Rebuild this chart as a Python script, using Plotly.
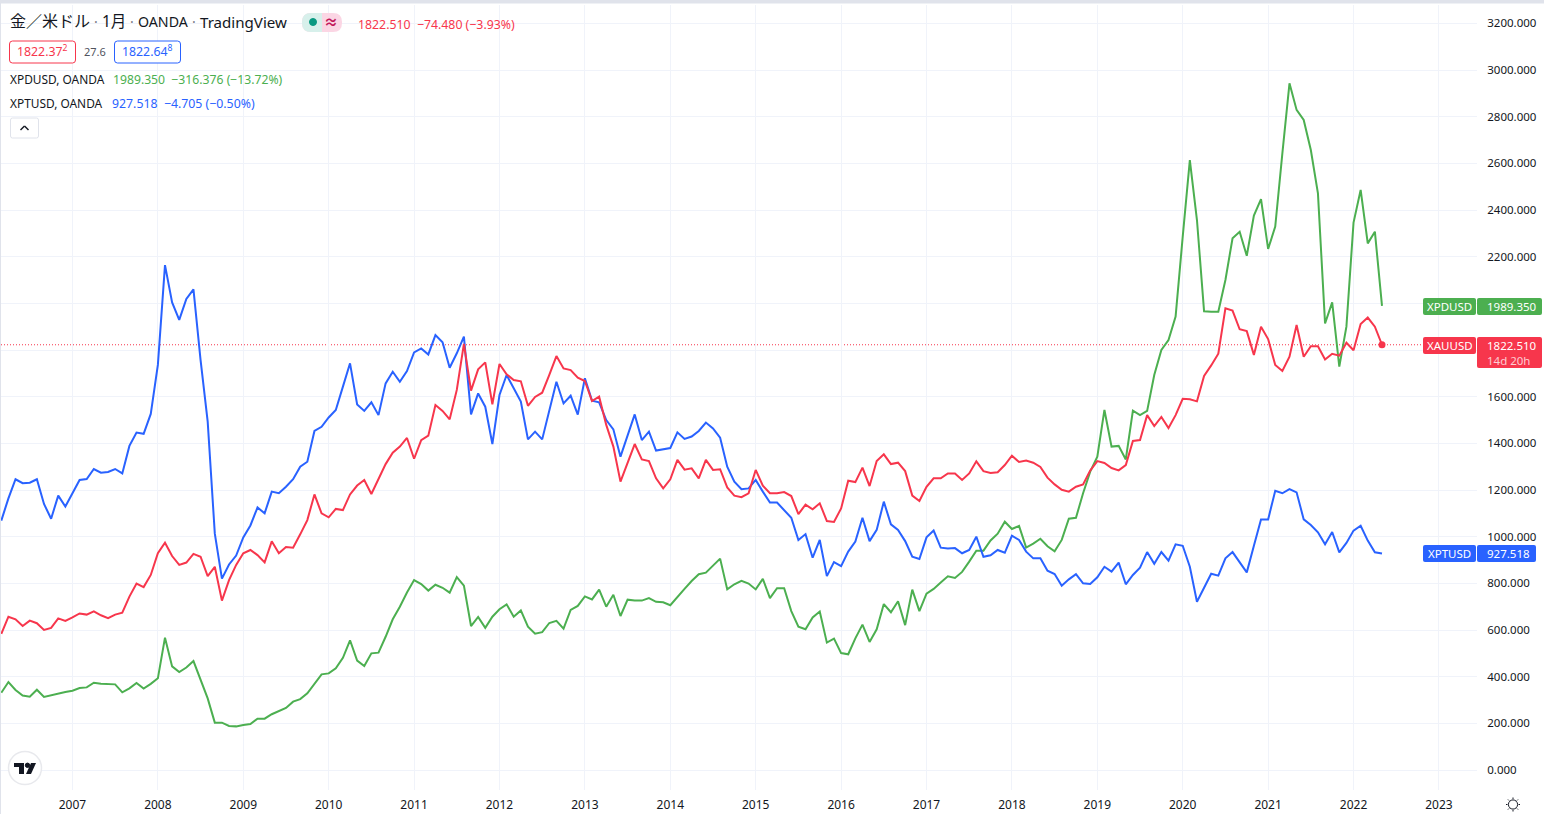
import plotly.graph_objects as go

# ---------- data ----------
first_year, first_month = 2006, 3
platinum = [
1069,1164,1246,1229,1231,1246,1140,1077,1176,1129,
1186,1243,1247,1290,1274,1277,1290,1271,1389,1446,
1441,1526,1736,2164,2004,1929,2019,2060,1757,1493,
1013,820,881,919,997,1048,1125,1100,1193,1186,
1214,1246,1300,1321,1453,1471,1511,1543,1643,1743,
1567,1539,1576,1521,1657,1707,1664,1710,1790,1807,
1781,1864,1833,1724,1786,1857,1524,1614,1557,1397,
1607,1693,1636,1579,1417,1450,1417,1543,1664,1571,
1604,1523,1679,1583,1576,1500,1460,1343,1436,1524,
1414,1450,1369,1376,1380,1447,1419,1429,1453,1489,
1464,1424,1300,1236,1203,1207,1243,1193,1146,1146,
1114,1081,986,1011,910,986,831,891,874,936,
979,1081,981,1029,1150,1053,1029,981,914,904,
997,1026,953,949,951,929,943,1000,914,920,
943,931,1004,986,936,907,907,854,840,790,
817,839,800,797,826,871,850,889,796,836,
867,934,884,934,897,967,961,871,721,779,
841,833,907,934,893,847,961,1074,1074,1197,
1186,1204,1190,1074,1050,1019,967,1020,933,973,
1026,1047,983,933,927.518]
gold = [
583,657,646,617,640,629,600,609,650,639,
654,671,666,680,663,651,666,674,743,799,
784,836,929,974,917,879,889,926,914,831,
871,726,814,879,929,943,921,890,980,929,
956,953,1010,1071,1181,1100,1083,1119,1114,1181,
1219,1243,1183,1247,1311,1360,1386,1423,1334,1414,
1433,1564,1539,1503,1629,1826,1626,1717,1747,1567,
1740,1696,1671,1666,1561,1599,1617,1693,1774,1721,
1714,1681,1667,1581,1600,1479,1386,1236,1321,1397,
1331,1324,1250,1207,1246,1329,1287,1293,1250,1329,
1286,1289,1211,1176,1169,1186,1286,1219,1186,1186,
1191,1174,1097,1137,1117,1143,1067,1063,1121,1240,
1234,1296,1217,1324,1353,1311,1317,1281,1176,1153,
1214,1250,1250,1271,1271,1243,1271,1323,1281,1273,
1276,1307,1347,1320,1326,1317,1299,1253,1224,1201,
1193,1214,1224,1283,1324,1316,1294,1284,1307,1410,
1414,1521,1474,1513,1466,1521,1591,1589,1580,1689,
1734,1784,1979,1969,1889,1881,1779,1900,1847,1736,
1710,1771,1907,1771,1816,1816,1759,1784,1776,1831,
1799,1911,1939,1900,1822.51]
palladium = [
331,377,343,319,314,344,313,320,330,334,
340,351,354,374,370,369,367,333,350,373,
349,369,393,567,444,420,439,467,386,307,
203,203,189,187,193,197,220,220,239,253,
266,293,304,329,371,410,414,436,481,556,
469,446,500,503,571,646,700,761,814,797,
769,794,781,760,827,790,617,656,609,657,
689,710,657,684,614,584,591,630,639,606,
686,703,744,731,773,700,751,660,730,726,
726,737,721,719,706,743,776,810,839,846,
874,906,774,796,811,799,774,819,737,779,
779,681,614,603,654,679,546,563,501,496,
564,623,549,603,711,676,723,621,773,681,
756,776,804,830,823,849,893,940,940,984,
1013,1064,1033,1046,953,970,991,959,937,986,
1077,1081,1186,1279,1343,1543,1386,1389,1331,1540,
1521,1539,1693,1800,1843,1943,2286,2614,2357,1966,
1964,1964,2100,2279,2307,2204,2376,2447,2233,2329,
2643,2943,2829,2786,2657,2471,1914,2004,1729,1900,
2346,2486,2257,2307,1989.35]
tick_years = list(range(2007, 2024))
price_ticks = [0, 200, 400, 600, 800, 1000, 1200, 1400, 1600, 2200, 2400, 2600, 2800, 3000, 3200]
covered_price_ticks = [1800, 2000]  # gridlines only: their labels sit behind the badges

RED, GREEN, BLUE = "#F7364C", "#4CAF50", "#2962FF"
GRID, INK = "#F0F3FA", "#131722"
UI = "Noto Sans, Noto Sans CJK JP, sans-serif"

W, H = 1544, 814
PL, PR, PT, PB = 1, 1477, 5, 790
months = list(range(len(gold)))
month_ticks = [(y - first_year) * 12 - (first_month - 1) for y in tick_years]

def xp(px): return (px - PL) / (PR - PL)
def yp(py): return (PB - py) / (PB - PT)

fig = go.Figure()
for name, vals, col in [("XPDUSD", palladium, GREEN), ("XPTUSD", platinum, BLUE), ("XAUUSD", gold, RED)]:
    fig.add_trace(go.Scatter(x=months, y=vals, mode="lines", name=name,
                             line=dict(color=col, width=2), hoverinfo="x+y"))
fig.add_trace(go.Scatter(x=[months[-1]], y=[gold[-1]], mode="markers",
                         marker=dict(color=RED, size=7), hoverinfo="skip"))

shapes, ann = [], []

def rect(x0, y0, x1, y1, fill, line=None, r=0, layer="above"):
    if r:
        rx = r / (PR - PL); ry = r / (PB - PT)
        a, b, c, d = xp(x0), yp(y0), xp(x1), yp(y1)
        path = (f"M{a+rx},{b} L{c-rx},{b} Q{c},{b} {c},{b-ry} L{c},{d+ry} Q{c},{d} {c-rx},{d} "
                f"L{a+rx},{d} Q{a},{d} {a},{d+ry} L{a},{b-ry} Q{a},{b} {a+rx},{b} Z")
        shapes.append(dict(type="path", path=path, xref="paper", yref="paper", fillcolor=fill,
                           line=dict(color=line or fill, width=1 if line else 0), layer=layer))
    else:
        shapes.append(dict(type="rect", xref="paper", yref="paper", x0=xp(x0), x1=xp(x1), y0=yp(y0), y1=yp(y1),
                           fillcolor=fill, line=dict(width=1 if line else 0, color=line or fill), layer=layer))

def circle(cx, cy, r, fill, line=None, lw=1):
    shapes.append(dict(type="circle", xref="paper", yref="paper",
                       x0=xp(cx - r), x1=xp(cx + r), y0=yp(cy - r), y1=yp(cy + r),
                       fillcolor=fill, line=dict(color=line or fill, width=lw)))

def seg(x0, y0, x1, y1, col, lw=1):
    shapes.append(dict(type="line", xref="paper", yref="paper", x0=xp(x0), x1=xp(x1), y0=yp(y0), y1=yp(y1),
                       line=dict(color=col, width=lw)))

def poly(pts, fill):
    p = "M" + " L".join(f"{xp(a)},{yp(b)}" for a, b in pts) + " Z"
    shapes.append(dict(type="path", path=p, xref="paper", yref="paper", fillcolor=fill, line=dict(width=0)))

def text(px, py, s, col=INK, size=12, anchor="left", bold=False):
    ann.append(dict(xref="paper", yref="paper", x=xp(px), y=yp(py), text=f"<b>{s}</b>" if bold else s,
                    showarrow=False, xanchor=anchor, yanchor="middle",
                    font=dict(family=UI, size=size, color=col), borderpad=0, borderwidth=0))

# page chrome
rect(-5, -5, W + 5, 3.5, "#E0E3EB")
rect(-5, -5, 1, H + 5, "#E0E3EB")

# last price line
shapes.append(dict(type="line", xref="paper", yref="y", x0=0, x1=xp(1422), y0=gold[-1], y1=gold[-1],
                   line=dict(color=RED, width=1, dash="1px,2px"), layer="below"))

# header
text(10, 21.5, "金／米ドル", size=16)
text(96, 21.5, "·", col="#787B86", size=14, anchor="center")
text(102, 21.5, "1月", size=15.5)
text(132, 21.5, "·", col="#787B86", size=14, anchor="center")
text(138, 22, "OANDA", size=14.2)
text(194, 21.5, "·", col="#787B86", size=14, anchor="center")
text(200, 22, "TradingView", size=15.1)
rect(302, 13, 342, 32, "#FBD6E4", r=9)
rect(302, 13, 322, 32, "#D7F0EB", r=9)
rect(312, 13, 322, 32, "#D7F0EB")
circle(313, 22, 3.5, "#089981")
text(331, 22, "≈", col="#C2185B", size=14, anchor="center", bold=True)
text(358, 24.5, "1822.510  −74.480 (−3.93%)", col=RED, size=12.3)
rect(9.5, 41, 75.5, 63, "#FFFFFF", line=RED, r=3)
text(17, 51.5, "1822.37<sup>2</sup>", col=RED, size=12.3)
text(95, 51.5, "27.6", col="#50535E", size=11, anchor="center")
rect(114.5, 41, 180.5, 63, "#FFFFFF", line=BLUE, r=3)
text(122, 51.5, "1822.64<sup>8</sup>", col=BLUE, size=12.3)
text(10, 79.5, "XPDUSD, OANDA", size=11.9)
text(113, 79.5, "1989.350  −316.376 (−13.72%)", col=GREEN, size=12.2)
text(10, 103.5, "XPTUSD, OANDA", size=11.9)
text(112, 103.5, "927.518  −4.705 (−0.50%)", col=BLUE, size=12.3)
rect(10.5, 118, 38.5, 138, "#FFFFFF", line="#E0E3EB", r=2)
seg(20.5, 130, 24.5, 126, INK, 1.5)
seg(24.5, 126, 28.5, 130, INK, 1.5)

# price badges
def badge(y0, y1, label, value, col, x_end=1542, y_end=None):
    rect(1423, y0, 1476, y1, col, r=2)
    rect(1477, y0, x_end, y_end or y1, col, r=2)
    text(1449.5, (y0 + y1) / 2, label, col="#FFFFFF", size=11.5, anchor="center")
    text(1487, (y0 + y1) / 2, value, col="#FFFFFF", size=11.5)

badge(298, 315, "XPDUSD", f"{palladium[-1]:.3f}", GREEN)
badge(337, 354, "XAUUSD", f"{gold[-1]:.3f}", RED, y_end=368)
text(1487, 360, "14d 20h", col="rgba(255,255,255,0.75)", size=11.5)
badge(545, 562, "XPTUSD", f"{platinum[-1]:.3f}", BLUE, x_end=1536)

# logo
circle(25, 768, 16.5, "#FFFFFF", "#E8E9ED", 1.5)
poly([(14, 763), (24, 763), (24, 774), (19, 774), (19, 767), (14, 767)], INK)
circle(27.5, 765.3, 2.2, INK)
poly([(31, 763), (36, 763), (31, 774), (26, 774)], INK)

# settings icon
circle(1513, 804.5, 4.6, "#FFFFFF", INK, 1)
for a, b, c, d in [(1513, 797.5, 1513, 799), (1513, 810, 1513, 811.5), (1506, 804.5, 1507.5, 804.5),
                   (1518.5, 804.5, 1520, 804.5), (1508, 799.5, 1509, 800.5), (1517, 808.5, 1518, 809.5),
                   (1508, 809.5, 1509, 808.5), (1517, 800.5, 1518, 799.5)]:
    seg(a, b, c, d, INK, 1)

fig.update_layout(
    width=W, height=H, margin=dict(l=PL, r=W - PR, t=PT, b=H - PB, pad=0),
    paper_bgcolor="#FFFFFF", plot_bgcolor="#FFFFFF", showlegend=False,
    font=dict(family=UI, size=12, color=INK),
    shapes=shapes, annotations=ann,
    xaxis=dict(range=[(PL - 1.3) / 7.117, (PR - 1.3) / 7.117], tickmode="array",
               tickvals=month_ticks, ticktext=[str(y) for y in tick_years],
               showgrid=True, gridcolor=GRID, gridwidth=1, zeroline=False, showline=False,
               ticks="outside", ticklen=4, tickcolor="#FFFFFF", tickfont=dict(size=12, color=INK)),
    yaxis=dict(side="right", range=[(770 - PB) / 0.23333, (770 - PT) / 0.23333], tickmode="array",
               tickvals=price_ticks, ticktext=[f"{v:.3f}" for v in price_ticks],
               showgrid=True, gridcolor=GRID, gridwidth=1, zeroline=False, showline=False,
               ticks="outside", ticklen=7, tickcolor="#FFFFFF", tickfont=dict(size=11.5, color=INK),
               minor=dict(tickmode="array", tickvals=covered_price_ticks, showgrid=True,
                          gridcolor=GRID, gridwidth=1, ticks="")),
)

fig.write_html("out.html", config=dict(displayModeBar=False),
               post_script="document.body.style.margin='0';document.documentElement.style.overflow='hidden';")
